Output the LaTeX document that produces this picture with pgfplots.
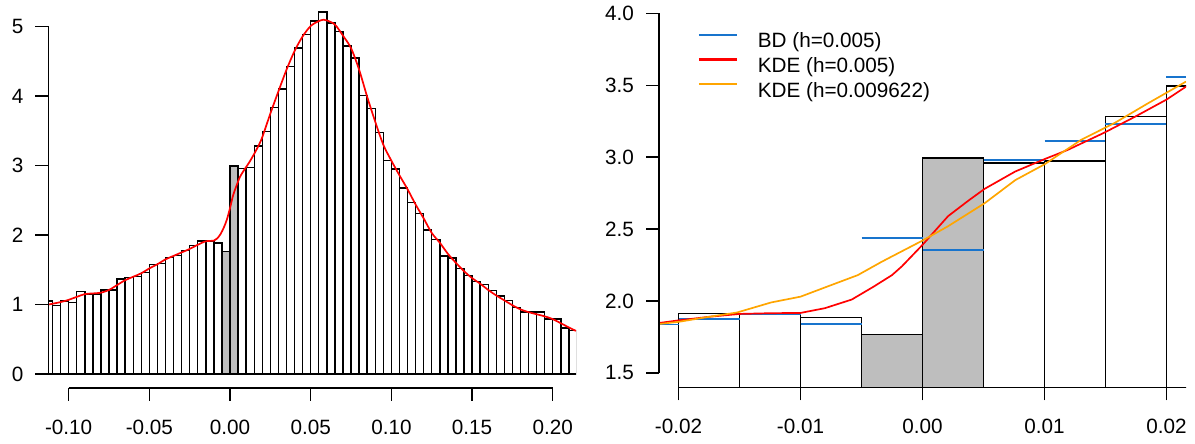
\documentclass[border=0pt]{standalone}
\usepackage{fontspec}
\setmainfont{Liberation Sans}
\usepackage{pgfplots}
\pgfplotsset{compat=1.18}
\definecolor{bdblue}{RGB}{24,116,205}
\definecolor{rgray}{RGB}{190,190,190}
\definecolor{rorange}{RGB}{255,165,0}
\definecolor{rred}{RGB}{255,0,0}
\pgfplotsset{
  rstyle/.style={
    scale only axis,
    axis x line*=bottom, axis y line*=left,
    axis line style={draw=none},
    tick align=outside,
    major tick length=6.5pt,
    tick style={black, line width=0.7pt},
    tick label style={font=\fontsize{10.35}{12.4}\selectfont},
    xticklabel style={yshift=-5.8pt},
    yticklabel style={xshift=-2.5pt},
    clip mode=individual,
    /pgf/number format/assume math mode=true,
  }
}
\begin{document}
\begin{tikzpicture}
\path[use as bounding box] (0,0) rectangle (597.5pt,222pt);
% ---------------- left panel ----------------
\begin{axis}[rstyle,
  at={(24.25pt,28pt)}, anchor=south west,
  width=263.75pt, height=189pt,
  xmin=-0.1125, xmax=0.2144, ymin=-0.2017, ymax=5.24,
  xtick={-0.1,-0.05,0,0.05,0.1,0.15,0.2},
  xticklabels={-0.10,-0.05,0.00,0.05,0.10,0.15,0.20},
  ytick={0,1,2,3,4,5},
  yticklabels={0,1,2,3,4,5},
]
\addplot[ybar interval, fill=white, draw=black, line width=0.7pt] coordinates {
(-0.115,1.05)(-0.110,0.99)(-0.105,1.05)(-0.100,1.03)(-0.095,1.19)(-0.090,1.15)
(-0.085,1.15)(-0.080,1.21)(-0.075,1.21)(-0.070,1.37)(-0.065,1.39)(-0.060,1.40)
(-0.055,1.46)(-0.050,1.58)(-0.045,1.59)(-0.040,1.68)(-0.035,1.71)(-0.030,1.78)
(-0.025,1.85)(-0.020,1.914)(-0.015,1.912)(-0.010,1.886)(-0.005,1.766)(0.000,2.993)
(0.005,2.958)(0.010,2.974)(0.015,3.282)(0.020,3.495)(0.025,3.84)(0.030,4.10)
(0.035,4.43)(0.040,4.69)(0.045,4.89)(0.050,5.08)(0.055,5.21)(0.060,5.05)
(0.065,4.93)(0.070,4.72)(0.075,4.55)(0.080,4.01)(0.085,3.82)(0.090,3.48)
(0.095,3.07)(0.100,2.95)(0.105,2.68)(0.110,2.47)(0.115,2.31)(0.120,2.07)
(0.125,1.94)(0.130,1.70)(0.135,1.67)(0.140,1.52)(0.145,1.42)(0.150,1.33)
(0.155,1.29)(0.160,1.20)(0.165,1.12)(0.170,1.06)(0.175,0.96)(0.180,0.89)
(0.185,0.89)(0.190,0.89)(0.195,0.79)(0.200,0.79)(0.205,0.66)(0.210,0.63)
(0.215,0.63)};
\addplot[ybar interval, fill=rgray, draw=black, line width=0.7pt] coordinates {
(-0.005,1.766)(0.000,2.993)(0.005,2.993)};
\addplot[rred, line width=0.85pt, smooth] coordinates {
(-0.1125,1.00)(-0.106,1.03)(-0.101,1.06)(-0.095,1.11)(-0.090,1.15)(-0.085,1.16)
(-0.080,1.17)(-0.075,1.21)(-0.070,1.28)(-0.065,1.35)(-0.060,1.40)(-0.055,1.45)
(-0.050,1.52)(-0.045,1.58)(-0.040,1.65)(-0.035,1.70)(-0.030,1.75)(-0.025,1.80)
(-0.020,1.86)(-0.015,1.91)(-0.010,1.92)(-0.008,1.95)(-0.006,2.01)(-0.004,2.10)
(-0.002,2.22)(0.000,2.39)(0.002,2.58)(0.004,2.71)(0.006,2.83)(0.008,2.91)
(0.010,2.98)(0.012,3.05)(0.015,3.17)(0.0175,3.28)(0.020,3.41)(0.025,3.75)
(0.030,4.07)(0.035,4.38)(0.040,4.65)(0.045,4.86)(0.050,5.01)(0.055,5.08)
(0.058,5.10)(0.060,5.09)(0.065,5.03)(0.070,4.87)(0.075,4.69)(0.080,4.38)
(0.085,3.99)(0.090,3.63)(0.095,3.30)(0.100,3.07)(0.105,2.86)(0.110,2.66)
(0.115,2.44)(0.120,2.24)(0.125,2.03)(0.130,1.89)(0.135,1.73)(0.140,1.60)
(0.145,1.48)(0.150,1.38)(0.155,1.30)(0.160,1.21)(0.165,1.13)(0.170,1.06)
(0.175,0.99)(0.180,0.93)(0.185,0.89)(0.190,0.86)(0.195,0.83)(0.200,0.79)
(0.205,0.73)(0.210,0.67)(0.2144,0.62)};
\draw[line width=0.7pt] (axis cs:-0.1,-0.2017) -- (axis cs:0.2,-0.2017);
\draw[line width=0.7pt] (axis cs:-0.1125,0) -- (axis cs:-0.1125,5);
\end{axis}
% ---------------- right panel ----------------
\begin{axis}[rstyle,
  at={(329.5pt,28.35pt)}, anchor=south west,
  width=263.5pt, height=194.2pt,
  xmin=-0.0216, xmax=0.0216, ymin=1.4, ymax=4.1,
  xtick={-0.02,-0.01,0,0.01,0.02},
  xticklabels={-0.02,-0.01,0.00,0.01,0.02},
  ytick={1.5,2,2.5,3,3.5,4},
  yticklabels={1.5,2.0,2.5,3.0,3.5,4.0},
  legend style={draw=none, fill=none, at={(axis description cs:0.0727,0.915)},
    anchor=north west, inner sep=0pt, column sep=10pt, row sep=2.6pt,
    font=\fontsize{10.35}{12.4}\selectfont,
    nodes={inner sep=0pt, text height=7.6pt, text depth=2.2pt}},
  legend cell align=left,
  legend image code/.code={\draw[#1, line width=1.1pt] (0pt,3.75pt) -- (19pt,3.75pt);},
]
\addplot[ybar interval, fill=white, draw=black, line width=0.7pt, forget plot] coordinates {
(-0.020,1.914)(-0.015,1.912)(-0.010,1.886)(-0.005,1.766)(0.000,2.993)
(0.005,2.958)(0.010,2.974)(0.015,3.282)(0.020,3.495)(0.025,3.495)};
\addplot[ybar interval, fill=rgray, draw=black, line width=0.7pt, forget plot] coordinates {
(-0.005,1.766)(0.000,2.993)(0.005,2.993)};
\addplot[bdblue, line width=0.85pt, unbounded coords=jump] coordinates {
(-0.0216,1.836)(-0.020,1.836)(-0.020,nan)
(-0.020,1.875)(-0.015,1.875)(-0.015,nan)
(-0.015,1.910)(-0.010,1.910)(-0.010,nan)
(-0.010,1.840)(-0.005,1.840)(-0.005,nan)
(-0.005,2.440)(0.000,2.440)(0.000,nan)
(0.000,2.356)(0.005,2.356)(0.005,nan)
(0.005,2.980)(0.010,2.980)(0.010,nan)
(0.010,3.110)(0.015,3.110)(0.015,nan)
(0.015,3.230)(0.020,3.230)(0.020,nan)
(0.020,3.555)(0.0216,3.555)};
\addlegendentry{BD (h=0.005)}
\addplot[rred, line width=0.85pt] coordinates {
(-0.0216,1.847)(-0.020,1.865)(-0.0175,1.89)(-0.015,1.91)(-0.0125,1.915)
(-0.010,1.917)(-0.008,1.95)(-0.0058,2.01)(-0.004,2.10)(-0.0025,2.18)
(-0.0017,2.24)(0.000,2.39)(0.0021,2.59)(0.0038,2.70)(0.0051,2.78)
(0.0076,2.90)(0.010,2.986)(0.0119,3.05)(0.0149,3.17)(0.0174,3.28)
(0.020,3.40)(0.0216,3.49)};
\addlegendentry{KDE (h=0.005)}
\addplot[rorange, line width=0.85pt] coordinates {
(-0.0216,1.84)(-0.020,1.855)(-0.0175,1.89)(-0.0152,1.92)(-0.0124,1.99)
(-0.010,2.03)(-0.0075,2.11)(-0.0053,2.18)(-0.0034,2.27)(-0.0025,2.31)
(0.000,2.42)(0.0021,2.52)(0.0051,2.68)(0.0076,2.84)(0.010,2.95)
(0.013,3.12)(0.0158,3.24)(0.0185,3.375)(0.0216,3.525)};
\addlegendentry{KDE (h=0.009622)}
\draw[line width=0.7pt] (axis cs:-0.02,1.4) -- (axis cs:0.02,1.4);
\draw[line width=0.7pt] (axis cs:-0.0216,1.5) -- (axis cs:-0.0216,4);
\end{axis}
\end{tikzpicture}
\end{document}
